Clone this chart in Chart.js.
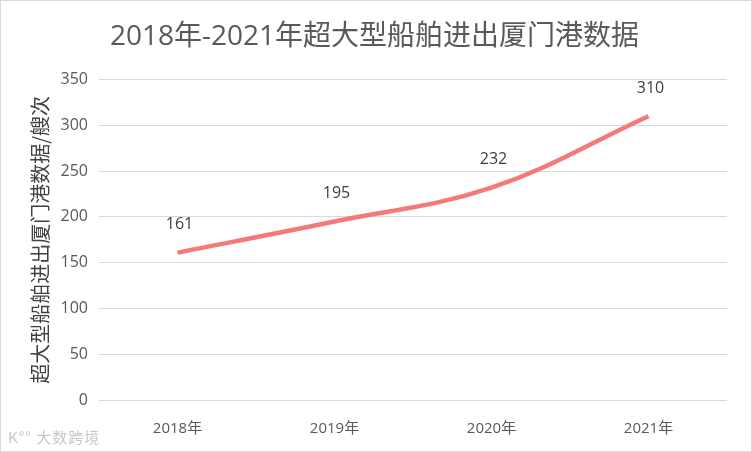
<!DOCTYPE html>
<html>
<head>
<meta charset="utf-8">
<script src="https://cdn.jsdelivr.net/npm/chart.js@4/dist/chart.umd.min.js"></script>
<style>
  html, body { margin: 0; padding: 0; background: #fff; }
  #wrap { position: relative; width: 752px; height: 452px; }
  #chart { display: block; }
  #mark {
    position: absolute; left: 8px; top: 426px;
    font: 15px "Noto Sans CJK SC", sans-serif; color: #c8c8c8; letter-spacing: 1px;
  }
</style>
</head>
<body>
<div id="wrap">
  <canvas id="chart" width="752" height="452"></canvas>
  <div id="mark">K°° 大数跨境</div>
</div>
<script>
// --- Data ---
const years = ['2018年', '2019年', '2020年', '2021年'];
const shipCounts = [161, 195, 232, 310];
const yTicks = [0, 50, 100, 150, 200, 250, 300, 350];

const CJK = "'Open Sans', 'Noto Sans CJK SC', sans-serif";
const textColor = '#595959';

// value labels above each point + light frame
const extras = {
  id: 'extras',
  afterDatasetsDraw(chart) {
    const ctx = chart.ctx;
    const meta = chart.getDatasetMeta(0);
    ctx.save();
    ctx.font = "16px " + CJK;
    ctx.fillStyle = '#404040';
    ctx.textAlign = 'center';
    ctx.textBaseline = 'middle';
    meta.data.forEach((pt, i) => {
      ctx.fillText(String(shipCounts[i]), pt.x + 2, pt.y - 28);
    });
    ctx.restore();
  },
  afterDraw(chart) {
    const ctx = chart.ctx;
    ctx.save();
    ctx.strokeStyle = '#d9d9d9';
    ctx.lineWidth = 1;
    ctx.strokeRect(0.5, 0.5, chart.width - 1, chart.height - 1);
    ctx.restore();
  }
};

new Chart(document.getElementById('chart'), {
  type: 'line',
  data: {
    labels: years,
    datasets: [{
      data: shipCounts,
      borderColor: '#f47a7a',
      borderWidth: 4.5,
      pointRadius: 0,
      tension: 0.38,
      fill: false,
    }],
  },
  options: {
    responsive: false,
    animation: false,
    layout: { padding: { left: 22, right: 25, top: 0, bottom: 0 } },
    plugins: {
      legend: { display: false },
      tooltip: { enabled: false },
      title: {
        display: true,
        text: '2018年-2021年超大型船舶进出厦门港数据',
        color: textColor,
        font: { family: CJK, size: 28, weight: 'normal' },
        padding: { top: 20, bottom: 26 },
      },
    },
    scales: {
      x: {
        offset: true,
        grid: { display: false },
        border: { display: false },
        ticks: { color: textColor, font: { family: CJK, size: 15 }, padding: 12 },
        afterFit: s => { s.height = 52; },
      },
      y: {
        min: 0,
        max: 350,
        afterBuildTicks: s => { s.ticks = yTicks.map(v => ({ value: v })); },
        grid: { color: '#d9d9d9', lineWidth: 1, drawTicks: false },
        border: { display: false },
        ticks: { color: textColor, font: { family: CJK, size: 16 }, padding: 11 },
        title: {
          display: true,
          text: '超大型船舶进出厦门港数据/艘次',
          color: '#404040',
          font: { family: "'Noto Sans CJK SC', sans-serif", size: 20 },
          padding: { top: 6, bottom: 0 },
        },
        afterFit: s => { s.width = 77; },
      },
    },
  },
  plugins: [extras],
});
</script>
</body>
</html>
